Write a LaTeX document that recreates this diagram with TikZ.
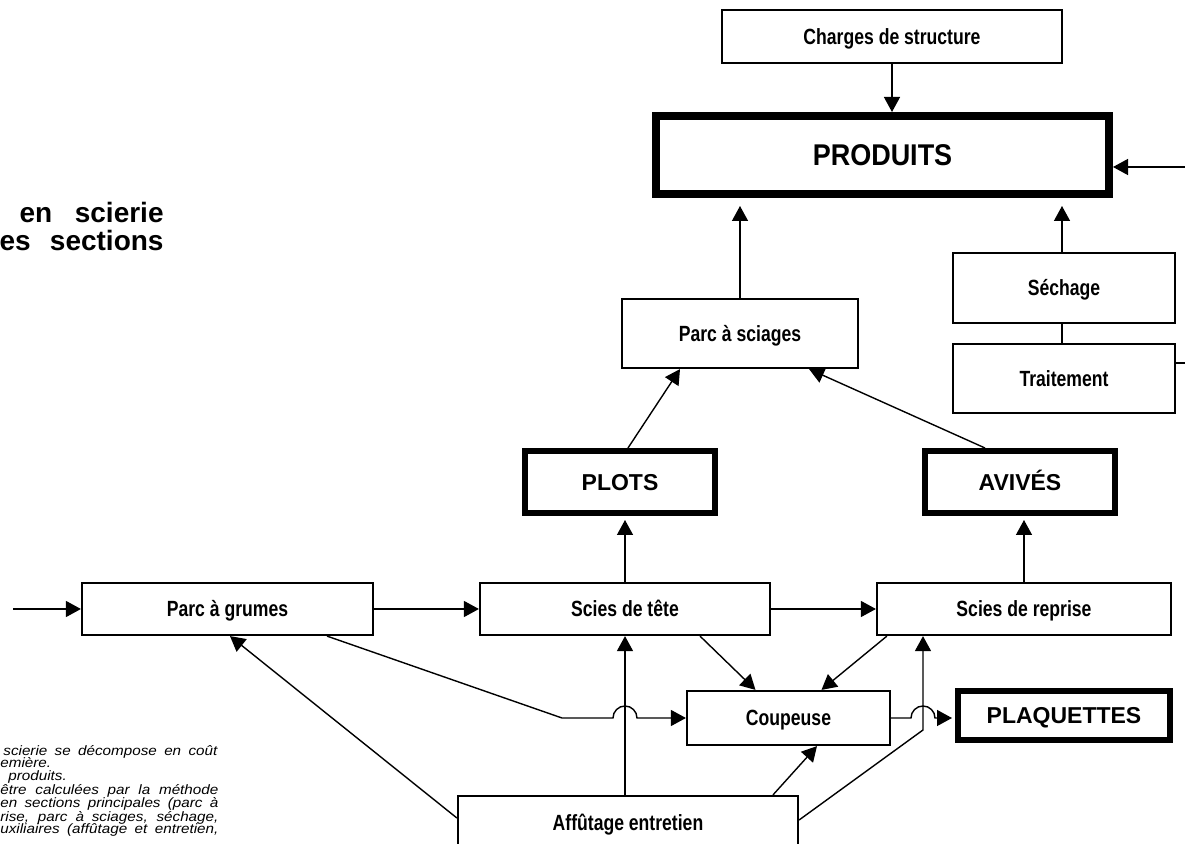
\documentclass[tikz,border=0pt]{standalone}
\usepackage{fontspec}
\setmainfont{Liberation Sans}
\newfontfamily\condfont[FakeStretch=0.8]{Liberation Sans}
\newfontfamily\larfont[FakeStretch=0.9]{Liberation Sans}
\newfontfamily\notefont[FakeStretch=1.12]{Liberation Sans}
\usetikzlibrary{arrows.meta, calc, positioning}

\begin{document}
\begin{tikzpicture}[x=0.5pt, y=-0.5pt,
    poste/.style={draw=black, line width=1.1pt, rectangle, inner sep=0pt,
                  text height=7.9pt, text depth=0pt,
                  font=\condfont\bfseries\fontsize{11}{13}\selectfont},
    sortie/.style={draw=black, line width=3pt, rectangle, inner sep=0pt,
                   text height=8.3pt, text depth=0pt,
                   font=\bfseries\fontsize{11.5}{14}\selectfont},
    fleche/.style={line width=0.7pt, -{Triangle[length=7.5pt, width=8pt]}},
    trait/.style={line width=0.7pt},
    titre/.style={inner sep=0pt, anchor=base east, font=\bfseries\fontsize{14}{16}\selectfont},
    note/.style={inner sep=0pt, anchor=base west, font=\notefont\itshape\fontsize{6.8}{6.7}\selectfont}]
\useasboundingbox (0,0) rectangle (1185,844);
\fill[white] (0,0) rectangle (1185,844);
\clip (0,0) rectangle (1185,844);

% titre coupe a gauche
\node[titre] (titre1) at (164,223) {\makebox[72pt][s]{en scierie}};
\node[titre] (titre2) at (164,251) {\makebox[82pt][s]{es sections}};

% notes en bas a gauche
\node[note] (n1) at (3,755) {\makebox[107pt][s]{scierie se décompose en coût}};
\node[note] (n2) at (0,768) {emière.};
\node[note] (n3) at (8,781) {produits.};
\node[note] (n4) at (0,795) {\makebox[109pt][s]{être calculées par la méthode}};
\node[note] (n5) at (0,808) {\makebox[109pt][s]{en sections principales (parc à}};
\node[note] (n6) at (0,821) {\makebox[109pt][s]{rise, parc à sciages, séchage,}};
\node[note] (n7) at (0,834) {\makebox[109pt][s]{uxiliaires (affûtage et entretien,}};

% postes
\node[poste, minimum width=170pt, minimum height=26.5pt] (charges) at (892,36.5) {Charges de structure};
\node[sortie, line width=4pt, minimum width=226.5pt, minimum height=39pt, text height=10.8pt,
      font=\larfont\bfseries\fontsize{15}{18}\selectfont] (produits) at (882.5,155) {PRODUITS};
\node[poste, minimum width=118pt, minimum height=34.5pt] (sciages) at (740,333.5) {Parc à sciages};
\node[poste, minimum width=111pt, minimum height=35pt] (sechage) at (1064,288) {Séchage};
\node[poste, minimum width=111pt, minimum height=34.5pt] (traitement) at (1064,378.5) {Traitement};
\node[sortie, minimum width=95pt, minimum height=31pt] (plots) at (620,482) {PLOTS};
\node[sortie, minimum width=95pt, minimum height=31pt] (avives) at (1020,482) {AVIVÉS};
\node[poste, minimum width=145.5pt, minimum height=26pt] (grumes) at (227.5,609) {Parc à grumes};
\node[poste, minimum width=145pt, minimum height=26pt] (tete) at (625,609) {Scies de tête};
\node[poste, minimum width=147pt, minimum height=26pt] (reprise) at (1024,609) {Scies de reprise};
\node[poste, minimum width=101.5pt, minimum height=27pt] (coupeuse) at (788.5,718) {Coupeuse};
\node[sortie, minimum width=106pt, minimum height=24.5pt] (plaquettes) at (1064,715.5) {PLAQUETTES};
\node[poste, minimum width=170pt, minimum height=27pt] (affutage) at (628,823) {Affûtage entretien};

\coordinate (entreeP) at (1185,167);
\coordinate (sortieT) at (1185,363);
\coordinate (entreeG) at (13,609);
\coordinate (pli1) at (562,718);
\coordinate (pli2) at (923,730);

% liaisons vers les produits
\draw[fleche] (charges.south) -- (charges.south |- produits.north);
\draw[fleche] (entreeP) -- (entreeP -| produits.east);
\draw[fleche, shorten >=4pt] (sciages.north) -- (sciages.north |- produits.south);
\draw[fleche, shorten >=4pt] ($(sechage.north)+(-2,0)$) -- ($(sechage.north |- produits.south)+(-2,0)$);
\draw[trait] ($(sechage.south)+(-2,0)$) -- ($(traitement.north)+(-2,0)$);
\draw[trait] (traitement.east |- sortieT) -- (sortieT);
\draw[fleche] ($(plots.north)+(8,0)$) -- ($(sciages.south)+(-60,0)$);
\draw[fleche] ($(avives.north)+(-35,0)$) -- ($(sciages.south east)+(-50,0)$);
\draw[fleche, shorten >=2pt] (tete.north) -- (tete.north |- plots.south);
\draw[fleche, shorten >=2pt] (reprise.north) -- (reprise.north |- avives.south);

% ligne de sciage
\draw[fleche] (entreeG) -- (grumes.west);
\draw[fleche] (grumes) -- (tete);
\draw[fleche] (tete) -- (reprise);
\draw[fleche] ($(grumes.south)+(99.5,0)$) -- (pli1)
  -- ($(coupeuse.west -| tete.south)+(-12,0)$) arc[start angle=180, end angle=360, radius=12]
  -- (coupeuse.west);
\draw[fleche] ($(tete.south)+(75,0)$) -- ($(coupeuse.north)+(-33,0)$);
\draw[fleche] ($(reprise.south west)+(11,0)$) -- ($(coupeuse.north)+(33,0)$);
\draw[fleche, shorten >=1.5pt] (coupeuse.east)
  -- ($(pli2 |- coupeuse.east)+(-12,0)$) arc[start angle=180, end angle=360, radius=12]
  -- (plaquettes.west |- coupeuse.east);

% affutage entretien
\draw[fleche] (affutage.north -| tete.south) -- (tete.south);
\draw[fleche] ($(affutage.north)+(145,0)$) -- ($(coupeuse.south)+(28.5,0)$);
\draw[fleche] ($(affutage.east)+(0,-3)$) -- (pli2) -- (pli2 |- reprise.south);
\draw[fleche] ($(affutage.west)+(0,-5)$) -- ($(grumes.south)+(2.5,0)$);
\end{tikzpicture}
\end{document}
